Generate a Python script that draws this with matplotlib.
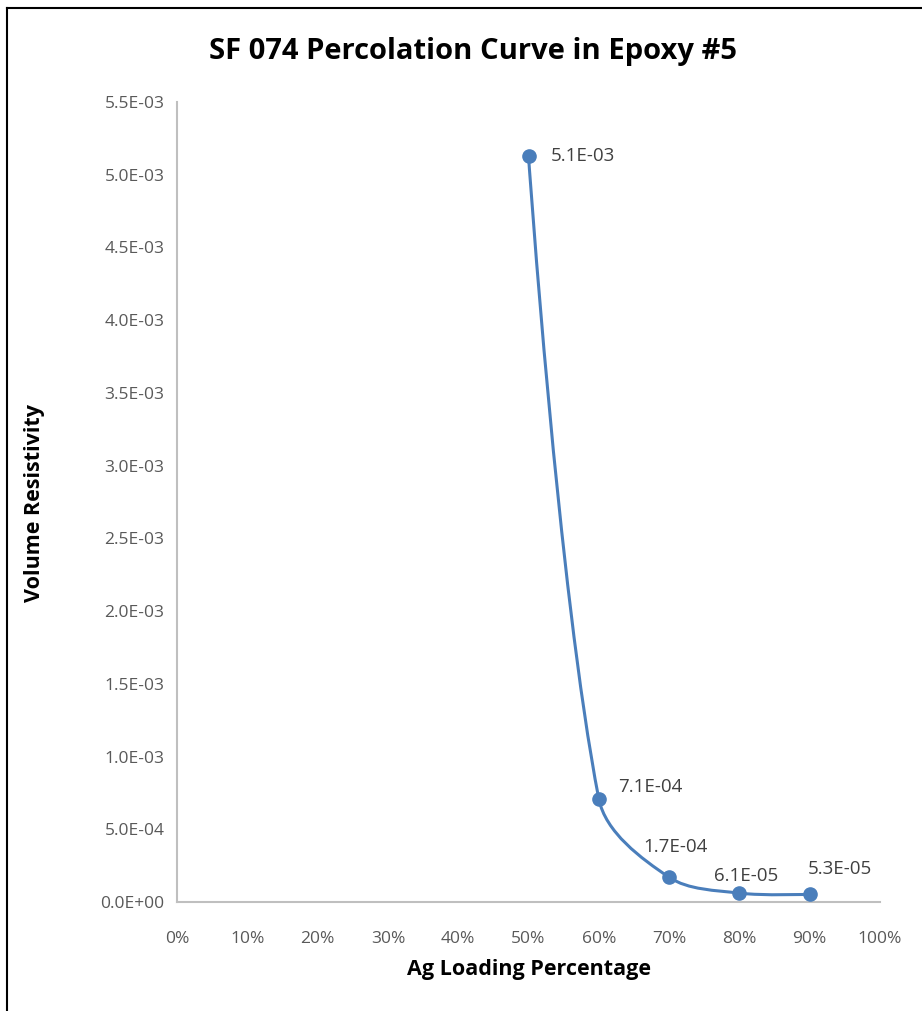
import matplotlib.pyplot as plt
import numpy as np
from matplotlib.path import Path
from matplotlib.patches import PathPatch
from matplotlib.ticker import FuncFormatter

loading = [0.5, 0.6, 0.7, 0.8, 0.9]
resistivity = [5.13e-3, 7.1e-4, 1.7e-4, 6.1e-5, 5.3e-5]
labels = ["5.1E-03", "7.1E-04", "1.7E-04", "6.1E-05", "5.3E-05"]
# label offsets in pixels (dx, dy) and horizontal alignment
label_pos = [(22, 0, "left"), (19, 12, "left"), (6, 30, "center"),
             (7, 17, "center"), (30, 25, "center")]

LINE = "#4a7ebb"
GRAY = "#595959"
FONT = "Open Sans"


def smooth_path(ax, x, y):
    # Excel-like smoothed line, built in pixel space so segment lengths
    # weight the tangents (stops overshoot next to long segments)
    pts = ax.transData.transform(np.column_stack([x, y]))
    n = len(pts)
    seg = np.hypot(*np.diff(pts, axis=0).T)
    before, after = pts.copy(), pts.copy()
    for i in range(1, n - 1):
        d = pts[i + 1] - pts[i - 1]
        tot = seg[i - 1] + seg[i]
        before[i] = pts[i] - d * seg[i - 1] / tot / 3
        after[i] = pts[i] + d * seg[i] / tot / 3
    verts = [pts[0]]
    codes = [Path.MOVETO]
    for i in range(n - 1):
        verts += [after[i], before[i + 1], pts[i + 1]]
        codes += [Path.CURVE4] * 3
    verts = ax.transData.inverted().transform(np.array(verts))
    return Path(verts, codes)


def main():
    fig = plt.figure(figsize=(9.22, 10.11), dpi=100)
    ax = fig.add_axes([177 / 922, 109 / 1011, 703 / 922, 800 / 1011])
    ax.set_xlim(0, 1)
    ax.set_ylim(0, 5.5e-3)

    ax.add_patch(PathPatch(smooth_path(ax, loading, resistivity), fill=False,
                           edgecolor=LINE, linewidth=2.2, capstyle="round"))
    ax.plot(loading, resistivity, "o", color=LINE, markersize=9.5, zorder=3)

    for x, y, t, (dx, dy, ha) in zip(loading, resistivity, labels, label_pos):
        ax.annotate(t, (x, y), xytext=(dx * 0.72, dy * 0.72),
                    textcoords="offset points", ha=ha, va="center",
                    fontsize=13.5, color="#404040", family=FONT)

    ax.set_xticks(np.arange(0, 1.01, 0.1))
    ax.set_yticks(np.arange(0, 5.51e-3, 5e-4))
    ax.xaxis.set_major_formatter(FuncFormatter(lambda v, p: f"{v * 100:.0f}%"))
    ax.yaxis.set_major_formatter(FuncFormatter(lambda v, p: f"{v:.1E}"))
    ax.tick_params(length=0, labelsize=12.5, labelcolor=GRAY)
    ax.tick_params(axis="x", pad=21)
    ax.tick_params(axis="y", pad=9)
    for lab in ax.get_xticklabels() + ax.get_yticklabels():
        lab.set_family(FONT)

    for s in ["top", "right"]:
        ax.spines[s].set_visible(False)
    for s in ["left", "bottom"]:
        ax.spines[s].set_color("#bfbfbf")
        ax.spines[s].set_linewidth(1.5)

    ax.set_xlabel("Ag Loading Percentage", fontsize=15.5, fontweight="bold",
                  family=FONT, va="center")
    ax.set_ylabel("Volume Resistivity", fontsize=15.5, fontweight="bold",
                  family=FONT, va="center")
    ax.xaxis.set_label_coords(0.5 + (528 - 528) / 703, -68 / 800)
    ax.yaxis.set_label_coords(-142 / 703, 0.5 - 1 / 800)
    fig.text(473 / 922, 1 - 52 / 1011, "SF 074 Percolation Curve in Epoxy #5",
             ha="center", va="center", fontsize=21, fontweight="bold",
             family=FONT)

    # outer frame (left and top edges visible)
    fig.add_artist(plt.Line2D([7 / 922, 7 / 922], [0, 1 - 8 / 1011],
                              color="black", linewidth=1.5))
    fig.add_artist(plt.Line2D([7 / 922, 1], [1 - 8 / 1011, 1 - 8 / 1011],
                              color="black", linewidth=1.5))

    fig.savefig("out.png", dpi=100)


if __name__ == "__main__":
    main()
